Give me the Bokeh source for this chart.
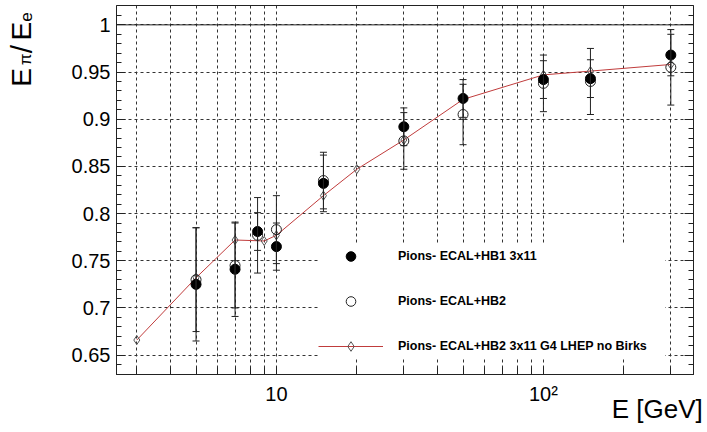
import math
from bokeh.plotting import figure
from bokeh.layouts import row
from bokeh.models import (ColumnDataSource, Whisker, TeeHead, FixedTicker, LinearAxis, LogAxis,
                          Legend, LegendItem, Span, Label)
from bokeh.embed import file_html
from bokeh.resources import INLINE

# ---- data ----
E_hb1 = [5, 7, 8.5, 10, 15, 30, 50, 100, 150, 300]
r_hb1 = [0.725, 0.741, 0.781, 0.765, 0.832, 0.892, 0.922, 0.942, 0.943, 0.968]
e_hb1 = [0.060, 0.050, 0.020, 0.025, 0.030, 0.020, 0.020, 0.020, 0.020, 0.022]

E_hb2 = [5, 7, 8.5, 10, 15, 30, 50, 100, 150, 300]
r_hb2 = [0.730, 0.745, 0.777, 0.783, 0.835, 0.877, 0.905, 0.938, 0.940, 0.955]
e_hb2 = [0.055, 0.045, 0.040, 0.036, 0.030, 0.030, 0.032, 0.030, 0.035, 0.040]

E_g4 = [3, 5, 7, 9, 10, 15, 20, 30, 50, 100, 150, 300]
r_g4 = [0.666, 0.732, 0.772, 0.771, 0.777, 0.819, 0.847, 0.878, 0.921, 0.947, 0.951, 0.958]

labels = ["Pions- ECAL+HB1 3x11", "Pions- ECAL+HB2", "Pions- ECAL+HB2 3x11 G4 LHEP no Birks"]

x_major = [10, 100]
x_major_labels = ["10", "10\u00b2"]
x_minor = [3, 4, 5, 6, 7, 8, 9, 20, 30, 40, 50, 60, 70, 80, 90, 200, 300]
y_major = [0.65, 0.7, 0.75, 0.8, 0.85, 0.9, 0.95, 1.0]
y_major_labels = ["0.65", "0.7", "0.75", "0.8", "0.85", "0.9", "0.95", "1"]
y_minor = [0.63, 0.64, 0.66, 0.67, 0.68, 0.69, 0.71, 0.72, 0.73, 0.74, 0.76, 0.77, 0.78,
           0.79, 0.81, 0.82, 0.83, 0.84, 0.86, 0.87, 0.88, 0.89, 0.91, 0.92, 0.93, 0.94,
           0.96, 0.97, 0.98, 0.99, 1.01]

x_title = "E [GeV]"
x_title_at = 267.0     # x position (GeV) at which the axis title is centred
FONT = "Liberation Sans"

LEFT_W = 60      # width of the y-title strip
MAIN_W = 645
H = 432

# ---- main plot ----
p = figure(width=MAIN_W, height=H, x_axis_type="log", title=None,
           x_range=(2.518, 364.8), y_range=(0.6295, 1.0205),
           output_backend="svg", toolbar_location=None,
           min_border_left=116 - LEFT_W, min_border_right=12,
           min_border_top=5, min_border_bottom=H - 374)
p.background_fill_color = "white"
p.border_fill_color = "white"
p.outline_line_color = "#222222"
p.outline_line_width = 1

xa = p.xaxis[0]
xa.ticker = FixedTicker(ticks=x_major, minor_ticks=x_minor)
xa.major_label_overrides = {v: s for v, s in zip(x_major, x_major_labels)}
ya = p.yaxis[0]
ya.ticker = FixedTicker(ticks=y_major, minor_ticks=y_minor)
ya.major_label_overrides = {v: s for v, s in zip(y_major, y_major_labels)}

for ax in (xa, ya):
    ax.axis_line_color = "#222222"
    ax.major_tick_in = 9
    ax.major_tick_out = 0
    ax.minor_tick_in = 5
    ax.minor_tick_out = 0
    ax.major_tick_line_color = "#222222"
    ax.minor_tick_line_color = "#222222"
    ax.major_label_text_font = FONT
    ax.major_label_text_font_size = "20px"
    ax.major_label_text_color = "black"
xa.minor_tick_in = 7
xa.major_tick_in = 8
xa.major_label_standoff = 8
ya.major_label_standoff = 6

# x-axis title as the only label of a bare second axis below the first
ta = LogAxis(ticker=FixedTicker(ticks=[x_title_at], minor_ticks=[]))
ta.major_label_overrides = {x_title_at: x_title}
ta.axis_line_color = None
ta.major_tick_line_color = None
ta.minor_tick_line_color = None
ta.major_tick_in = 0
ta.major_tick_out = 0
ta.minor_tick_in = 0
ta.minor_tick_out = 0
ta.major_label_standoff = -14
ta.major_label_text_font = FONT
ta.major_label_text_font_size = "26px"
ta.major_label_text_color = "black"
p.add_layout(ta, "below")

ra = LinearAxis(ticker=FixedTicker(ticks=y_major, minor_ticks=y_minor))
ra.major_label_overrides = {v: "" for v in y_major}
ra.major_tick_in = 9
ra.major_tick_out = 0
ra.minor_tick_in = 5
ra.minor_tick_out = 0
ra.major_label_standoff = 0
ra.axis_line_color = "#222222"
ra.major_tick_line_color = "#222222"
ra.minor_tick_line_color = "#222222"
p.add_layout(ra, "right")

p.xgrid.ticker = FixedTicker(ticks=x_major, minor_ticks=x_minor)
p.ygrid.ticker = FixedTicker(ticks=y_major)
for g in (p.xgrid[0], p.ygrid[0]):
    g.grid_line_color = "#333333"
    g.grid_line_dash = "3 3"
    g.grid_line_width = 1
p.xgrid.minor_grid_line_color = "#333333"
p.xgrid.minor_grid_line_dash = "3 3"

p.add_layout(Span(location=1.0, dimension="width", line_color="#222222", line_width=1))

s1 = ColumnDataSource(dict(x=E_hb1, y=r_hb1,
                           lo=[a - b for a, b in zip(r_hb1, e_hb1)],
                           hi=[a + b for a, b in zip(r_hb1, e_hb1)]))
s2 = ColumnDataSource(dict(x=E_hb2, y=r_hb2,
                           lo=[a - b for a, b in zip(r_hb2, e_hb2)],
                           hi=[a + b for a, b in zip(r_hb2, e_hb2)]))
for s in (s2, s1):
    w = Whisker(base="x", upper="hi", lower="lo", source=s, dimension="height",
                line_color="#222222", line_width=1,
                upper_head=TeeHead(size=7, line_color="#222222", line_width=1),
                lower_head=TeeHead(size=7, line_color="#222222", line_width=1),
                level="glyph")
    p.add_layout(w)

g4_line = p.line(E_g4, r_g4, line_color="#c03c3c", line_width=1)
g4_mk = p.scatter(E_g4, r_g4, marker="diamond", size=9, line_color="#555555",
                  fill_color="white", fill_alpha=0.0, line_width=1)
r2 = p.scatter("x", "y", source=s2, marker="circle", size=10, line_color="#222222",
               fill_color=None, line_width=1)
r1 = p.scatter("x", "y", source=s1, marker="circle", size=10, line_color="black",
               fill_color="black")

legend = Legend(items=[LegendItem(label=labels[0], renderers=[r1]),
                       LegendItem(label=labels[1], renderers=[r2]),
                       LegendItem(label=labels[2], renderers=[g4_line, g4_mk])],
                location=(202, 16), glyph_width=65, glyph_height=24, label_height=24,
                label_width=267,
                spacing=21, padding=15, label_standoff=15,
                background_fill_color="white", background_fill_alpha=1.0,
                border_line_color=None,
                label_text_font=FONT, label_text_font_style="bold",
                label_text_font_size="12.5px", label_text_color="black")
p.add_layout(legend)

# ---- strip holding the y-axis title ----
yt = figure(width=LEFT_W, height=H, x_range=(0, LEFT_W), y_range=(0, H), title=None,
            x_axis_location=None, y_axis_location=None,
            output_backend="svg", toolbar_location=None, min_border=0)
yt.grid.visible = False
yt.outline_line_color = None
yt.background_fill_color = "white"
yt.border_fill_color = "white"

a = math.pi / 2
def ylab(text, x_img, y_img, size):
    yt.add_layout(Label(x=x_img, y=H - y_img, text=text, angle=a, text_align="left",
                        text_baseline="alphabetic", text_font=FONT,
                        text_font_size=size, text_color="black"))
ylab("E", 21, 95, "28px")
ylab("\u03c0", 25, 70, "17px")
ylab("/", 21, 56, "30px")
ylab("E", 21, 41, "28px")
ylab("e", 25, 19, "17px")

layout = row(yt, p, spacing=0)

open("out.html", "w").write(file_html(layout, INLINE))
